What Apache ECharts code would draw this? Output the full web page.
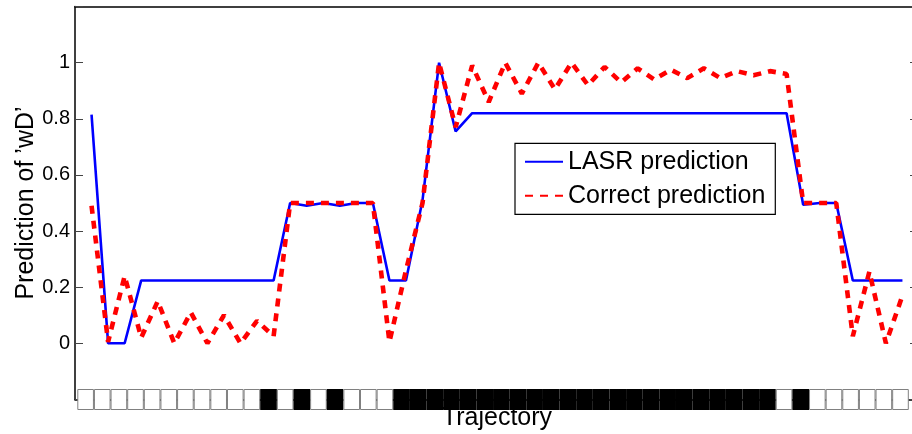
<!DOCTYPE html>
<html><head><meta charset="utf-8">
<script src="https://cdn.jsdelivr.net/npm/echarts@6/dist/echarts.min.js"></script>
<style>html,body{margin:0;padding:0;background:#fff;overflow:hidden}#c{width:912px;height:434px}</style>
</head><body><div id="c"></div>
<script>
// Trajectory step index (1..50)
const trajectoryIndex = [1,2,3,4,5,6,7,8,9,10,11,12,13,14,15,16,17,18,19,20,21,22,23,24,25,26,27,28,29,30,31,32,33,34,35,36,37,38,39,40,41,42,43,44,45,46,47,48,49,50];
// LASR prediction of 'wD'
const lasrPrediction = [0.815,0,0,0.224,0.224,0.224,0.224,0.224,0.224,0.224,0.224,0.224,0.5,0.49,0.5,0.49,0.5,0.5,0.224,0.224,0.51,1.0,0.755,0.82,0.82,0.82,0.82,0.82,0.82,0.82,0.82,0.82,0.82,0.82,0.82,0.82,0.82,0.82,0.82,0.82,0.82,0.82,0.82,0.494,0.5,0.5,0.224,0.224,0.224,0.224];
// Correct prediction of 'wD'
const correctPrediction = [0.49,0.005,0.24,0.02,0.15,0,0.11,0,0.10,0,0.08,0.025,0.5,0.5,0.5,0.5,0.5,0.5,0.005,0.26,0.5,1.0,0.77,0.99,0.86,1.0,0.89,1.0,0.905,1.0,0.92,0.985,0.93,0.98,0.94,0.975,0.945,0.98,0.945,0.97,0.955,0.97,0.96,0.5,0.5,0.5,0.025,0.255,0,0.17];
// Trajectory strip: 1 = black cell, 0 = white cell
const trajectoryCells = [0,0,0,0,0,0,0,0,0,0,0,1,0,1,0,1,0,0,0,1,1,1,1,1,1,1,1,1,1,1,1,1,1,1,1,1,1,1,1,1,1,1,0,1,0,0,0,0,0,0];
const yTickLabels = ['0','0.2','0.4','0.6','0.8','1'];

const FONT = '"Liberation Sans", Arial, Helvetica, sans-serif';
const chart = echarts.init(document.getElementById('c'), null, {renderer: 'canvas'});

const lasrData = lasrPrediction.map((v, i) => [trajectoryIndex[i], v]);
const correctData = correctPrediction.map((v, i) => [trajectoryIndex[i], v]);
const cellData = trajectoryCells.map(c => ({value: 1, itemStyle: c
  ? {color: '#000000', borderColor: '#000000', borderWidth: 2}
  : {color: '#ffffff', borderColor: '#808080', borderWidth: 1}}));

const frameLine = {show: true, onZero: false, lineStyle: {color: '#000', width: 1.5}};

const option = {
  animation: false,
  backgroundColor: '#ffffff',
  grid: [
    {left: 75, top: 6.6, width: 844, height: 392.8, outerBoundsMode: 'none', containLabel: false},
    {left: 77.3, top: 389, width: 831.5, height: 21, outerBoundsMode: 'none', containLabel: false}
  ],
  xAxis: [
    {gridIndex: 0, type: 'value', min: 0, max: 51,
     axisLine: frameLine,
     axisTick: {show: false}, axisLabel: {show: false}, splitLine: {show: false},
     name: 'Trajectory', nameLocation: 'middle', nameGap: 6,
     nameTextStyle: {fontSize: 25, fontFamily: FONT, color: '#000'}},
    {gridIndex: 0, type: 'value', position: 'top', min: 0, max: 51,
     axisLine: frameLine,
     axisTick: {show: false}, axisLabel: {show: false}, splitLine: {show: false}},
    {gridIndex: 1, type: 'category', data: trajectoryIndex, boundaryGap: true, show: false}
  ],
  yAxis: [
    {gridIndex: 0, type: 'value', min: -0.2, max: 1.2, interval: 0.2,
     axisLine: frameLine,
     axisTick: {show: true, inside: true, length: 8, lineStyle: {color: '#444', width: 1}},
     splitLine: {show: false},
     axisLabel: {margin: 5, fontSize: 20, fontFamily: FONT, color: '#000',
       formatter: v => { const k = Math.round(v / 0.2); return (k >= 0 && k < yTickLabels.length) ? yTickLabels[k] : ''; }},
     name: 'Prediction of \u2019wD\u2019', nameLocation: 'middle', nameRotate: 90, nameGap: 36,
     nameMoveOverlap: false,
     nameTextStyle: {fontSize: 25, fontFamily: FONT, color: '#000'}},
    {gridIndex: 0, type: 'value', position: 'right', min: -0.2, max: 1.2, interval: 0.2,
     axisLine: frameLine,
     axisTick: {show: true, inside: true, length: 9, lineStyle: {color: '#444', width: 1}},
     axisLabel: {show: false}, splitLine: {show: false}},
    {gridIndex: 1, type: 'value', min: 0, max: 1, show: false}
  ],
  legend: {
    data: ['LASR prediction', 'Correct prediction'],
    orient: 'vertical', left: 515, top: 143.3,
    padding: [6, 10, 6, 9], itemGap: 9, itemWidth: 38, itemHeight: 14,
    borderColor: '#000', borderWidth: 1.2, backgroundColor: '#fff',
    itemStyle: {opacity: 0},
    textStyle: {fontSize: 25, fontFamily: FONT, color: '#000'}
  },
  series: [
    {type: 'line', name: 'LASR prediction', xAxisIndex: 0, yAxisIndex: 0, data: lasrData,
     symbol: 'none', lineStyle: {color: '#0000ff', width: 2.6}, itemStyle: {color: '#0000ff'}, z: 3},
    {type: 'line', name: 'Correct prediction', xAxisIndex: 0, yAxisIndex: 0, data: correctData,
     symbol: 'none', lineStyle: {color: '#ff0000', width: 4.6, type: [8, 7]}, itemStyle: {color: '#ff0000'}, z: 4},
    {type: 'bar', name: 'strip', xAxisIndex: 2, yAxisIndex: 2, data: cellData,
     barWidth: '100%', barCategoryGap: 0, silent: true, z: 5}
  ]
};
chart.setOption(option);
</script></body></html>
